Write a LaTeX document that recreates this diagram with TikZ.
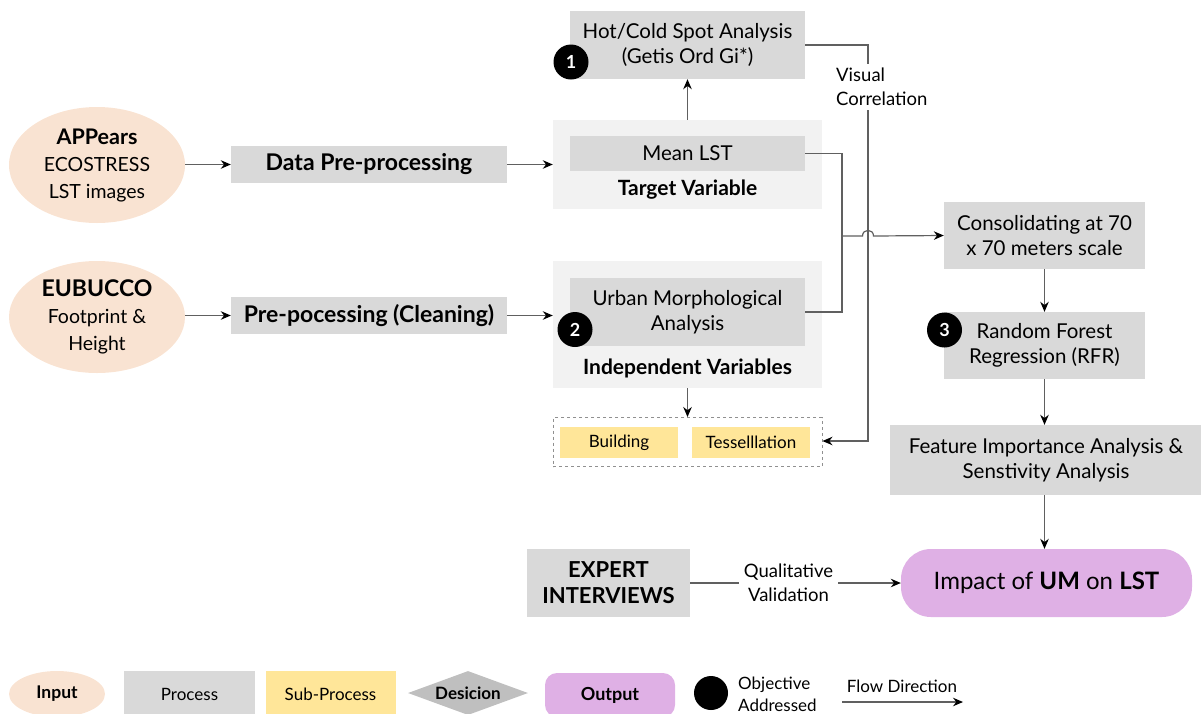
\documentclass[tikz,border=0pt]{standalone}
\usepackage{fontspec}
\setmainfont{Lato}
\usetikzlibrary{arrows.meta,shapes.geometric}
\definecolor{boxgray}{HTML}{D9D9D9}
\definecolor{grpgray}{HTML}{F2F2F2}
\definecolor{peach}{HTML}{F9E3D2}
\definecolor{subyel}{HTML}{FFE699}
\definecolor{outpur}{HTML}{DFB0E5}
\definecolor{diagray}{HTML}{BFBFBF}
\definecolor{linegray}{HTML}{606060}
\tikzset{
  proc/.style={fill=boxgray,inner sep=0pt,align=center,font=\fontsize{20.5}{25}\selectfont},
  grp/.style={fill=grpgray,inner sep=0pt},
  inp/.style={ellipse,fill=peach,inner sep=0pt,align=center,font=\fontsize{19.5}{27}\selectfont},
  sub/.style={fill=subyel,inner sep=0pt,font=\fontsize{17}{20}\selectfont},
  outp/.style={fill=outpur,rounded corners=30pt,inner sep=0pt,align=center},
  objc/.style={circle,fill=black,text=white,inner sep=0pt,minimum size=35pt,font=\bfseries\fontsize{18}{18}\selectfont},
  lbl/.style={fill=white,inner sep=2pt,align=center,font=\fontsize{18.5}{24}\selectfont},
  conn/.style={draw=linegray,line width=1.2pt,-{Stealth[length=10pt,width=8.5pt,color=black]}},
  plain/.style={draw=linegray,line width=1.2pt},
  leg/.style={inner sep=0pt,align=center,font=\fontsize{17}{22}\selectfont}
}
\begin{document}
\begin{tikzpicture}[x=1pt,y=-1pt]
\useasboundingbox (0,0) rectangle (1201,713);
% inputs
\node[inp,minimum width=176pt,minimum height=116pt] (app) at (97,165) {{\bfseries\fontsize{21.5}{27}\selectfont APPears}\\ECOSTRESS\\LST images};
\node[inp,minimum width=176pt,minimum height=112pt] (eub) at (97,317) {{\bfseries\fontsize{23}{27}\selectfont EUBUCCO}\\Footprint \&\\Height};
% preprocessing
\node[proc,minimum width=276pt,minimum height=37pt,font=\bfseries\fontsize{23}{27}\selectfont] (dpp) at (369,164.5) {Data Pre-processing};
\node[proc,minimum width=276pt,minimum height=37pt,font=\bfseries\fontsize{23}{27}\selectfont] (cln) at (369,315.5) {Pre-pocessing (Cleaning)};
% groups
\node[grp,minimum width=269pt,minimum height=89pt] (tgt) at (687.5,164.5) {};
\node[proc,minimum width=235pt,minimum height=35pt] (mlst) at (687.5,153.5) {Mean LST};
\node[font=\bfseries\fontsize{21}{24}\selectfont,inner sep=0pt] (tvl) at (687.5,190) {Target Variable};
\node[grp,minimum width=269pt,minimum height=127pt] (ind) at (687.5,324.5) {};
\node[proc,minimum width=235pt,minimum height=68pt] (uma) at (687.5,312) {Urban Morphological\\Analysis};
\node[font=\bfseries\fontsize{21}{24}\selectfont,inner sep=0pt] (ivl) at (687.5,368) {Independent Variables};
% hot cold
\node[proc,minimum width=235pt,minimum height=68pt] (hot) at (687.5,45) {Hot/Cold Spot Analysis\\(Getis Ord Gi*)};
% sub process
\node[draw=linegray!70,dashed,line width=1pt,minimum width=269pt,minimum height=49pt,inner sep=0pt] (dsh) at (687.5,442) {};
\node[sub,minimum width=118pt,minimum height=31pt] (bld) at (619,442.5) {Building};
\node[sub,minimum width=118pt,minimum height=31pt] (tes) at (751,442.5) {Tesselllation};
% right column
\node[proc,minimum width=201pt,minimum height=67pt] (con) at (1044.5,235.5) {Consolidating at 70\\x 70 meters scale};
\node[proc,minimum width=201pt,minimum height=67pt] (rfr) at (1044.5,345.5) {Random Forest\\Regression (RFR)};
\node[proc,minimum width=312pt,minimum height=70pt] (fia) at (1046,460) {Feature Importance Analysis \&\\Senstivity Analysis};
\node[outp,minimum width=291pt,minimum height=68pt,font=\fontsize{24}{28}\selectfont] (imp) at (1046.5,583) {Impact of \textbf{UM} on \textbf{LST}};
\node[proc,minimum width=163pt,minimum height=68pt,font=\bfseries\fontsize{22}{26}\selectfont] (exp) at (608.5,583) {EXPERT\\INTERVIEWS};
% objective circles
\node[objc] (c1) at (571,62) {1};
\node[objc] (c2) at (575,329.5) {2};
\node[objc] (c3) at (944.5,330) {3};
% connectors
\draw[conn] (app.east |- dpp.west) -- (dpp.west);
\draw[conn] (eub.east |- cln.west) -- (cln.west);
\draw[conn] (dpp.east) -- (dpp.east -| tgt.west);
\draw[conn] (cln.east) -- (cln.east -| ind.west);
\draw[conn] (tgt.north) -- (hot.south);
\draw[conn] (ind.south -| dsh.north) -- (dsh.north);
\coordinate (jn) at (842,236);
\coordinate (vx) at (868,45);
\coordinate (vb) at (868,441);
\draw[plain] (mlst.east) -| (jn);
\draw[plain] (uma.east) -| (jn);
\draw[conn] (hot.east |- vx) -- (vx) -- (vb) -- (vb -| dsh.east);
\node[lbl,anchor=west,align=left,inner ysep=4pt] (vc) at (834,87) {Visual\\Correlation};
\draw[conn] (jn) -- (862.5,236) .. controls (862.5,228.5) and (873.5,228.5) .. (873.5,236) -- (con.west);
\draw[conn] (con.south) -- (rfr.north);
\draw[conn] (rfr.south) -- (rfr.south |- fia.north);
\draw[conn] (rfr.south |- fia.south) -- (rfr.south |- imp.north);
\draw[conn] (exp.east) -- (imp.west);
\node[lbl,inner sep=5pt] (qv) at (788.5,583) {Qualitative\\Validation};
% legend
\node[ellipse,fill=peach,minimum width=96pt,minimum height=46pt,inner sep=0pt,font=\bfseries\fontsize{17.5}{20}\selectfont] (lin) at (57,694) {Input};
\node[fill=boxgray,minimum width=131pt,minimum height=46pt,leg] (lpr) at (189.5,694) {Process};
\node[fill=subyel,minimum width=130pt,minimum height=46pt,leg] (lsp) at (330.5,694) {Sub-Process};
\node[diamond,fill=diagray,minimum width=120pt,minimum height=44pt,inner sep=0pt,aspect=2.7,font=\bfseries\fontsize{17}{20}\selectfont] (ldc) at (468,693) {Desicion};
\node[fill=outpur,rounded corners=12pt,minimum width=130pt,minimum height=44pt,inner sep=0pt,font=\bfseries\fontsize{18}{20}\selectfont] (lou) at (610,695) {Output};
\node[circle,fill=black,minimum size=34pt,inner sep=0pt] (lob) at (711,693) {};
\node[leg,anchor=west,align=left] (lot) at (738,694) {Objective\\Addressed};
\node[leg] (lfd) at (902,686) {Flow Direction};
\coordinate (fa) at (842,702);
\coordinate (fb) at (963,702);
\draw[conn] (fa) -- (fb);
\end{tikzpicture}
\end{document}
